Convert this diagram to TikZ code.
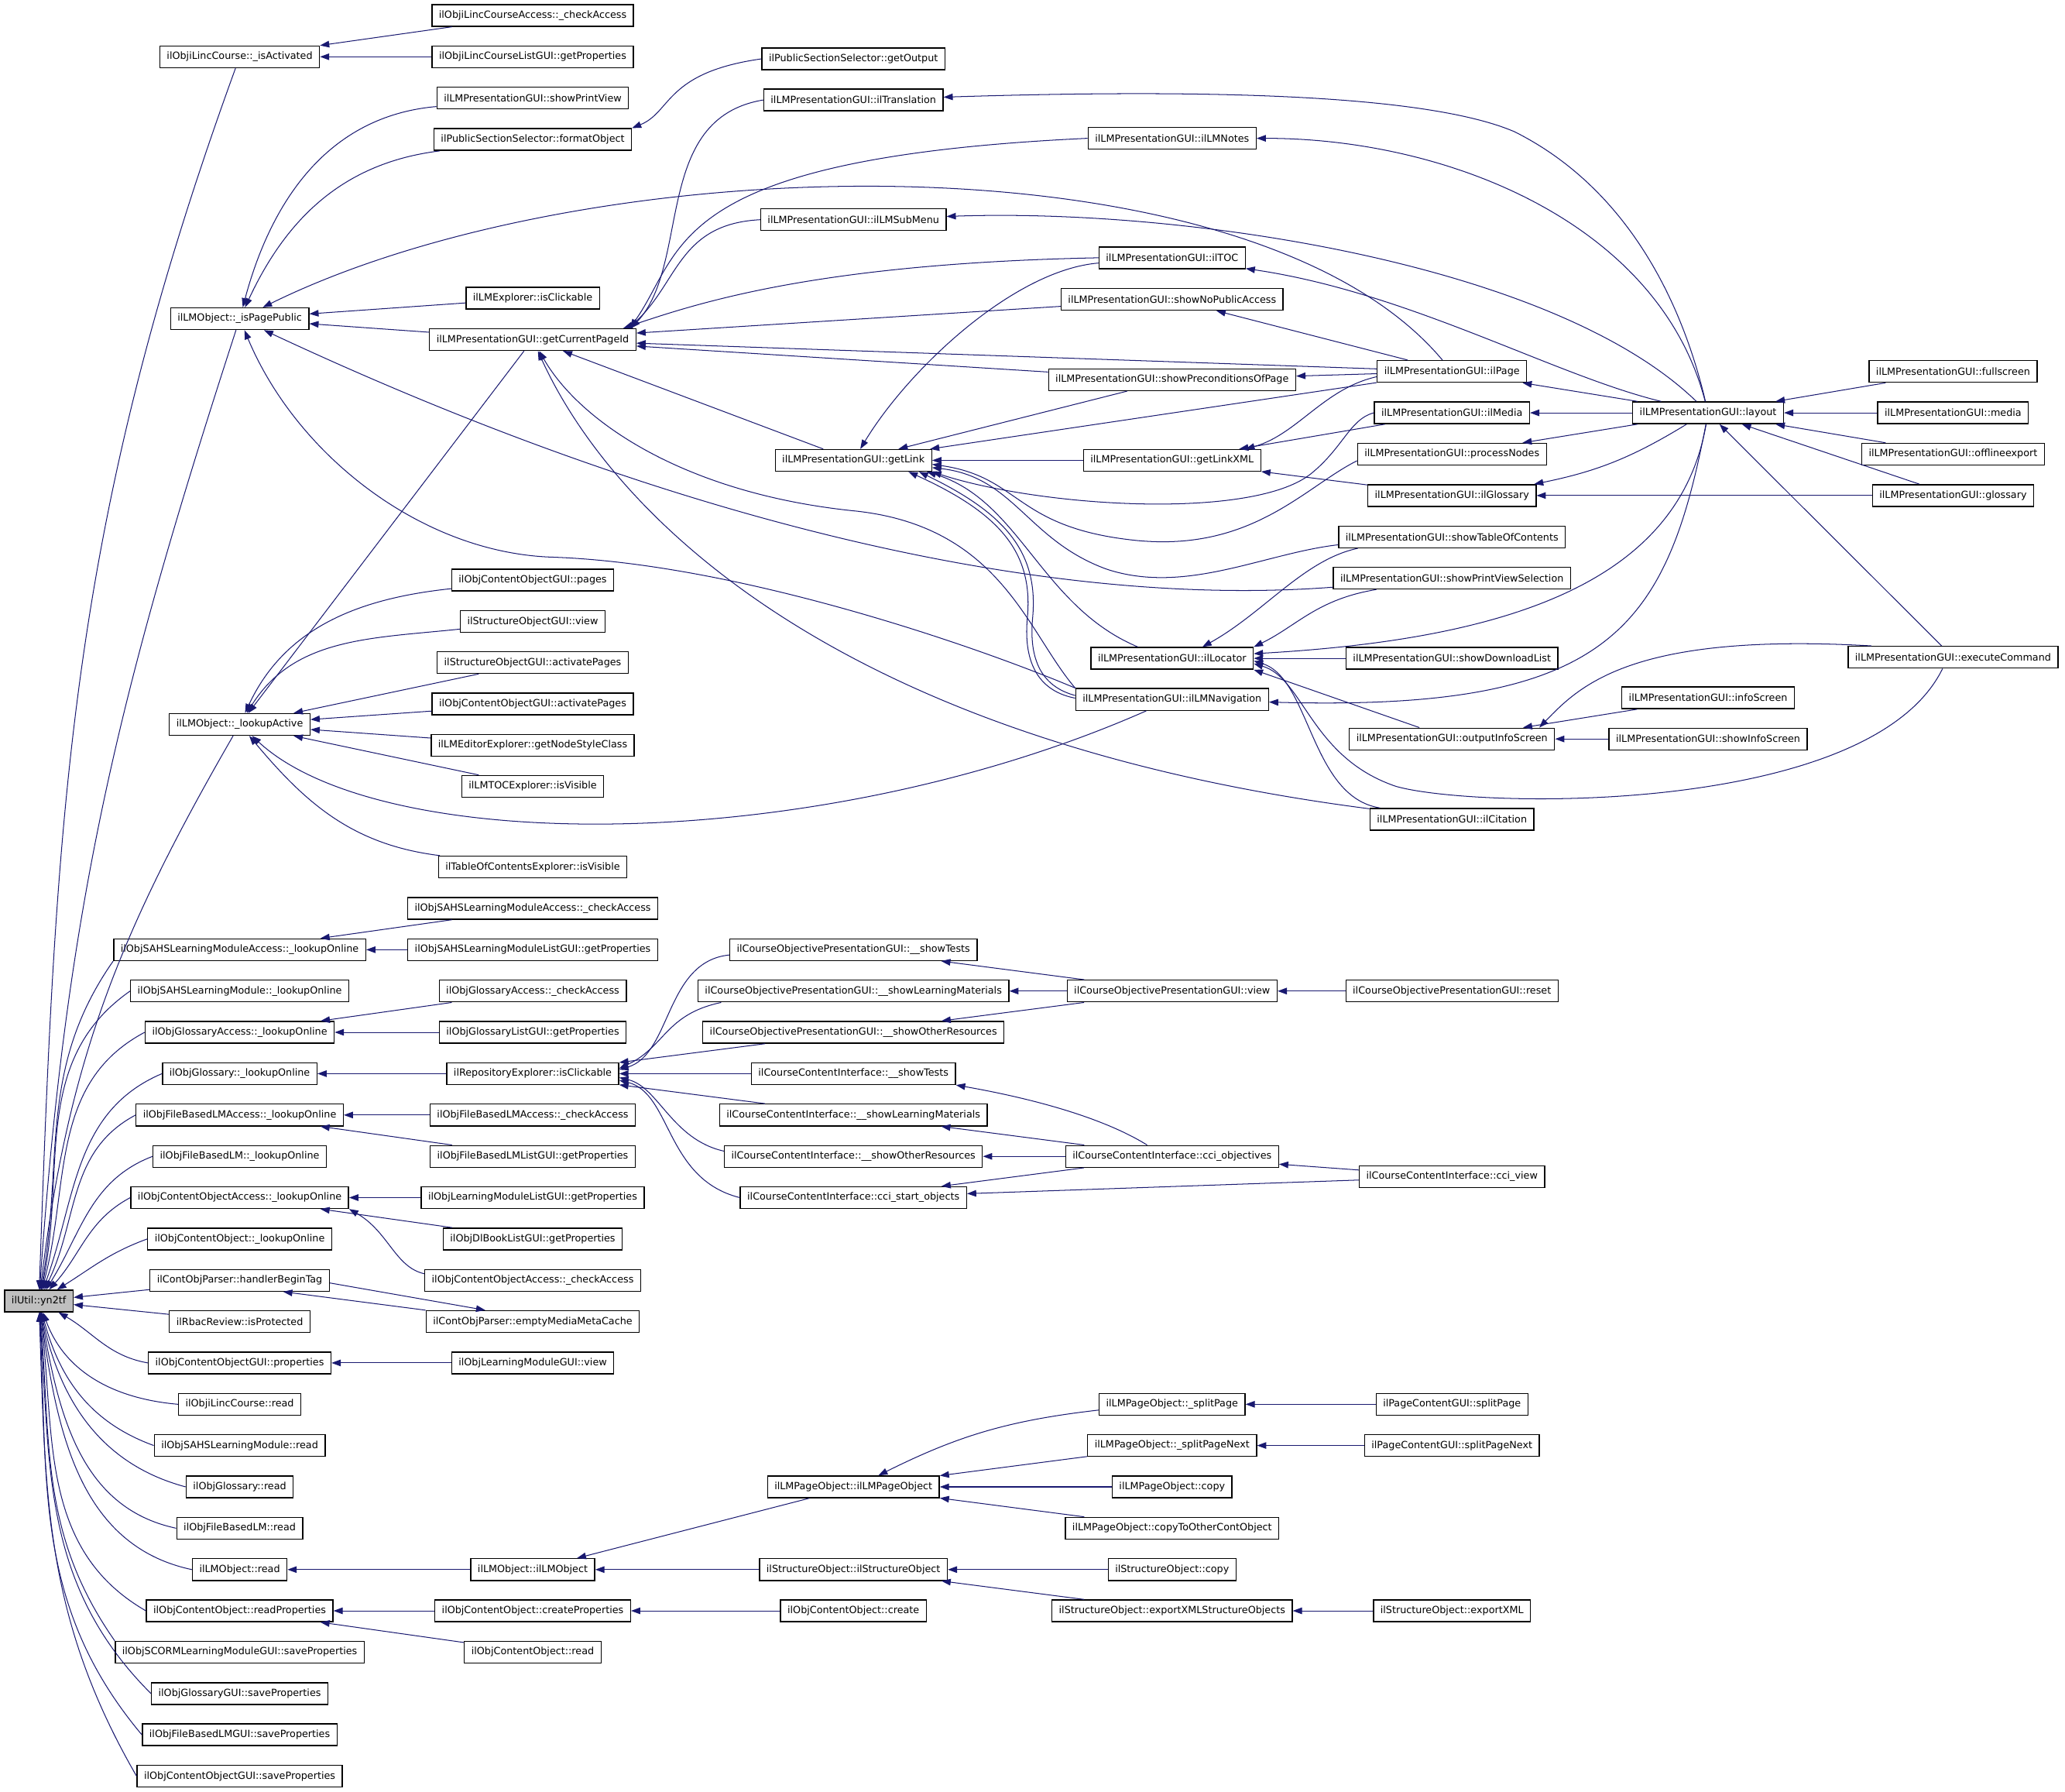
\documentclass[tikz,border=0pt]{standalone}
\usepackage{fontspec}
\setmainfont{DejaVu Sans}
\usetikzlibrary{arrows.meta}
\definecolor{edgeblue}{RGB}{25,25,112}
\definecolor{rootgray}{RGB}{191,191,191}

\begin{document}
\begin{tikzpicture}[x=1pt,y=1pt,
  fn/.style={draw=black, line width=0.8pt, fill=white, minimum height=16.5pt,
    inner xsep=5.3pt, inner ysep=1pt, font=\fontsize{7.5}{9}\selectfont},
  root/.style={fn, fill=rootgray},
  callarrow/.style={draw=edgeblue, line width=0.6pt,
    arrows={Triangle[length=7pt,width=5pt,fill=edgeblue]-}}]
  \useasboundingbox (0,0) rectangle (1568,-1360);

  % ilUtil
  \node[root] (yn2tf) at (29.5,-987.7) {ilUtil::yn2tf};

  % second column
  \node[fn] (is_activated) at (182,-43.1) {ilObjiLincCourse::\_isActivated};
  \node[fn] (is_page_public) at (182,-242) {ilLMObject::\_isPagePublic};
  \node[fn] (lookup_active) at (182,-550) {ilLMObject::\_lookupActive};
  \node[fn] (sahs_acc_online) at (182,-721) {ilObjSAHSLearningModuleAccess::\_lookupOnline};
  \node[fn] (sahs_online) at (182,-752.4) {ilObjSAHSLearningModule::\_lookupOnline};
  \node[fn] (gloss_acc_online) at (182,-783.7) {ilObjGlossaryAccess::\_lookupOnline};
  \node[fn] (gloss_online) at (182,-815.1) {ilObjGlossary::\_lookupOnline};
  \node[fn] (fblm_acc_online) at (182,-846.5) {ilObjFileBasedLMAccess::\_lookupOnline};
  \node[fn] (fblm_online) at (182,-877.9) {ilObjFileBasedLM::\_lookupOnline};
  \node[fn] (co_acc_online) at (182,-909.2) {ilObjContentObjectAccess::\_lookupOnline};
  \node[fn] (co_online) at (182,-940.6) {ilObjContentObject::\_lookupOnline};
  \node[fn] (handler_begin_tag) at (182,-972) {ilContObjParser::handlerBeginTag};
  \node[fn] (is_protected) at (182,-1003.3) {ilRbacReview::isProtected};
  \node[fn] (co_gui_properties) at (182,-1034.7) {ilObjContentObjectGUI::properties};
  \node[fn] (linc_read) at (182,-1066.1) {ilObjiLincCourse::read};
  \node[fn] (sahs_read) at (182,-1097.4) {ilObjSAHSLearningModule::read};
  \node[fn] (gloss_read) at (182,-1128.8) {ilObjGlossary::read};
  \node[fn] (fblm_read) at (182,-1160.2) {ilObjFileBasedLM::read};
  \node[fn] (lmo_read) at (182,-1191.6) {ilLMObject::read};
  \node[fn] (read_properties) at (182,-1222.9) {ilObjContentObject::readProperties};
  \node[fn] (scorm_save) at (182,-1254.3) {ilObjSCORMLearningModuleGUI::saveProperties};
  \node[fn] (gloss_save) at (182,-1285.7) {ilObjGlossaryGUI::saveProperties};
  \node[fn] (fblm_save) at (182,-1317) {ilObjFileBasedLMGUI::saveProperties};
  \node[fn] (co_gui_save) at (182,-1348.4) {ilObjContentObjectGUI::saveProperties};

  % third column
  \node[fn] (linc_check) at (404.5,-11.7) {ilObjiLincCourseAccess::\_checkAccess};
  \node[fn] (linc_list_props) at (404.5,-43.1) {ilObjiLincCourseListGUI::getProperties};
  \node[fn] (show_print_view) at (404.5,-74.5) {ilLMPresentationGUI::showPrintView};
  \node[fn] (format_object) at (404.5,-105.9) {ilPublicSectionSelector::formatObject};
  \node[fn] (lm_expl_clickable) at (404.5,-226.4) {ilLMExplorer::isClickable};
  \node[fn] (get_current_page_id) at (404.5,-257.8) {ilLMPresentationGUI::getCurrentPageId};
  \node[fn] (co_gui_pages) at (404.5,-440.4) {ilObjContentObjectGUI::pages};
  \node[fn] (so_gui_view) at (404.5,-471.8) {ilStructureObjectGUI::view};
  \node[fn] (so_gui_activate) at (404.5,-503) {ilStructureObjectGUI::activatePages};
  \node[fn] (co_gui_activate) at (404.5,-534.5) {ilObjContentObjectGUI::activatePages};
  \node[fn] (node_style_class) at (404.5,-565.8) {ilLMEditorExplorer::getNodeStyleClass};
  \node[fn] (toc_visible) at (404.5,-597) {ilLMTOCExplorer::isVisible};
  \node[fn] (table_visible) at (404.5,-658.2) {ilTableOfContentsExplorer::isVisible};
  \node[fn] (sahs_check) at (404.5,-689.6) {ilObjSAHSLearningModuleAccess::\_checkAccess};
  \node[fn] (sahs_list_props) at (404.5,-721) {ilObjSAHSLearningModuleListGUI::getProperties};
  \node[fn] (gloss_check) at (404.5,-752.4) {ilObjGlossaryAccess::\_checkAccess};
  \node[fn] (gloss_list_props) at (404.5,-783.7) {ilObjGlossaryListGUI::getProperties};
  \node[fn] (repo_clickable) at (404.5,-815.1) {ilRepositoryExplorer::isClickable};
  \node[fn] (fblm_check) at (404.5,-846.5) {ilObjFileBasedLMAccess::\_checkAccess};
  \node[fn] (fblm_list_props) at (404.5,-877.9) {ilObjFileBasedLMListGUI::getProperties};
  \node[fn] (lm_list_props) at (404.5,-909.2) {ilObjLearningModuleListGUI::getProperties};
  \node[fn] (dl_book_props) at (404.5,-940.6) {ilObjDlBookListGUI::getProperties};
  \node[fn] (co_acc_check) at (404.5,-972) {ilObjContentObjectAccess::\_checkAccess};
  \node[fn] (empty_cache) at (404.5,-1003.3) {ilContObjParser::emptyMediaMetaCache};
  \node[fn] (lm_gui_view) at (404.5,-1034.7) {ilObjLearningModuleGUI::view};
  \node[fn] (lmo_ctor) at (404.5,-1191.6) {ilLMObject::ilLMObject};
  \node[fn] (create_props) at (404.5,-1222.9) {ilObjContentObject::createProperties};
  \node[fn] (co_read) at (404.5,-1254.3) {ilObjContentObject::read};

  % fourth column
  \node[fn] (get_output) at (648,-44.7) {ilPublicSectionSelector::getOutput};
  \node[fn] (il_translation) at (648,-75.9) {ilLMPresentationGUI::ilTranslation};
  \node[fn] (il_lm_sub_menu) at (648,-166.8) {ilLMPresentationGUI::ilLMSubMenu};
  \node[fn] (get_link) at (648,-349.5) {ilLMPresentationGUI::getLink};
  \node[fn] (cop_tests) at (648,-721) {ilCourseObjectivePresentationGUI::\_\_showTests};
  \node[fn] (cop_materials) at (648,-752.4) {ilCourseObjectivePresentationGUI::\_\_showLearningMaterials};
  \node[fn] (cop_other) at (648,-783.7) {ilCourseObjectivePresentationGUI::\_\_showOtherResources};
  \node[fn] (cci_tests) at (648,-815.1) {ilCourseContentInterface::\_\_showTests};
  \node[fn] (cci_materials) at (648,-846.5) {ilCourseContentInterface::\_\_showLearningMaterials};
  \node[fn] (cci_other) at (648,-877.9) {ilCourseContentInterface::\_\_showOtherResources};
  \node[fn] (cci_start) at (648,-909.2) {ilCourseContentInterface::cci\_start\_objects};
  \node[fn] (lm_page_ctor) at (648,-1128.8) {ilLMPageObject::ilLMPageObject};
  \node[fn] (so_ctor) at (648,-1191.6) {ilStructureObject::ilStructureObject};
  \node[fn] (co_create) at (648,-1222.9) {ilObjContentObject::create};

  % fifth column
  \node[fn] (il_lm_notes) at (890,-105) {ilLMPresentationGUI::ilLMNotes};
  \node[fn] (il_toc) at (890,-195.7) {ilLMPresentationGUI::ilTOC};
  \node[fn] (show_no_public) at (890,-227.3) {ilLMPresentationGUI::showNoPublicAccess};
  \node[fn] (show_preconditions) at (890,-288.3) {ilLMPresentationGUI::showPreconditionsOfPage};
  \node[fn] (get_link_xml) at (890,-349.5) {ilLMPresentationGUI::getLinkXML};
  \node[fn] (il_locator) at (890,-499.8) {ilLMPresentationGUI::ilLocator};
  \node[fn] (il_lm_navigation) at (890,-531) {ilLMPresentationGUI::ilLMNavigation};
  \node[fn] (cop_view) at (890,-752.4) {ilCourseObjectivePresentationGUI::view};
  \node[fn] (cci_objectives) at (890,-877.9) {ilCourseContentInterface::cci\_objectives};
  \node[fn] (split_page) at (890,-1066.1) {ilLMPageObject::\_splitPage};
  \node[fn] (split_page_next) at (890,-1097.4) {ilLMPageObject::\_splitPageNext};
  \node[fn] (lm_page_copy) at (890,-1128.8) {ilLMPageObject::copy};
  \node[fn] (copy_to_other) at (890,-1160.2) {ilLMPageObject::copyToOtherContObject};
  \node[fn] (so_copy) at (890,-1191.6) {ilStructureObject::copy};
  \node[fn] (export_xml_so) at (890,-1222.9) {ilStructureObject::exportXMLStructureObjects};

  % sixth column
  \node[fn] (il_page) at (1102.5,-282) {ilLMPresentationGUI::ilPage};
  \node[fn] (il_media) at (1102.5,-313.4) {ilLMPresentationGUI::ilMedia};
  \node[fn] (process_nodes) at (1102.5,-344.8) {ilLMPresentationGUI::processNodes};
  \node[fn] (il_glossary) at (1102.5,-376.2) {ilLMPresentationGUI::ilGlossary};
  \node[fn] (show_toc) at (1102.5,-407.6) {ilLMPresentationGUI::showTableOfContents};
  \node[fn] (show_print_sel) at (1102.5,-438.9) {ilLMPresentationGUI::showPrintViewSelection};
  \node[fn] (show_download) at (1102.5,-499.8) {ilLMPresentationGUI::showDownloadList};
  \node[fn] (output_info) at (1102.5,-561) {ilLMPresentationGUI::outputInfoScreen};
  \node[fn] (il_citation) at (1102.5,-622) {ilLMPresentationGUI::ilCitation};
  \node[fn] (cop_reset) at (1102.5,-752.4) {ilCourseObjectivePresentationGUI::reset};
  \node[fn] (cci_view) at (1102.5,-893.4) {ilCourseContentInterface::cci\_view};
  \node[fn] (split_page_gui) at (1102.5,-1066.1) {ilPageContentGUI::splitPage};
  \node[fn] (split_page_next_gui) at (1102.5,-1097.4) {ilPageContentGUI::splitPageNext};
  \node[fn] (export_xml) at (1102.5,-1222.9) {ilStructureObject::exportXML};

  % right columns
  \node[fn] (layout) at (1297,-313.4) {ilLMPresentationGUI::layout};
  \node[fn] (info_screen) at (1297,-529.8) {ilLMPresentationGUI::infoScreen};
  \node[fn] (show_info_screen) at (1297,-561) {ilLMPresentationGUI::showInfoScreen};
  \node[fn] (fullscreen) at (1483,-282) {ilLMPresentationGUI::fullscreen};
  \node[fn] (media) at (1483,-313.4) {ilLMPresentationGUI::media};
  \node[fn] (offline_export) at (1483,-344.8) {ilLMPresentationGUI::offlineexport};
  \node[fn] (glossary) at (1483,-376.2) {ilLMPresentationGUI::glossary};
  \node[fn] (execute_command) at (1483,-499) {ilLMPresentationGUI::executeCommand};

  % callers of ilUtil::yn2tf
  \draw[callarrow] (yn2tf) to[out=88,in=-110] (is_activated);
  \draw[callarrow] (yn2tf) to[out=86,in=-108] (is_page_public);
  \draw[callarrow] (yn2tf) to[out=83,in=-120] (lookup_active);
  \draw[callarrow] (yn2tf) to[out=80,in=-125] (sahs_acc_online.south west);
  \draw[callarrow] (yn2tf) to[out=78,in=215] (sahs_online.west);
  \draw[callarrow] (yn2tf) to[out=75,in=208] (gloss_acc_online.west);
  \draw[callarrow] (yn2tf) to[out=70,in=203] (gloss_online.west);
  \draw[callarrow] (yn2tf) to[out=64,in=208] (fblm_acc_online.west);
  \draw[callarrow] (yn2tf) to[out=58,in=201] (fblm_online.west);
  \draw[callarrow] (yn2tf) to[out=48,in=208] (co_acc_online.west);
  \draw[callarrow] (yn2tf) to[out=32,in=200] (co_online.west);
  \draw[callarrow] (yn2tf) -- (handler_begin_tag);
  \draw[callarrow] (yn2tf) -- (is_protected);
  \draw[callarrow] (yn2tf) to[out=-30,in=170] (co_gui_properties.west);
  \draw[callarrow] (yn2tf) to[out=-70,in=175] (linc_read.west);
  \draw[callarrow] (yn2tf) to[out=-75,in=160] (sahs_read.west);
  \draw[callarrow] (yn2tf) to[out=-78,in=165] (gloss_read.west);
  \draw[callarrow] (yn2tf) to[out=-80,in=168] (fblm_read.west);
  \draw[callarrow] (yn2tf) to[out=-82,in=168] (lmo_read.west);
  \draw[callarrow] (yn2tf) to[out=-83,in=150] (read_properties.west);
  \draw[callarrow] (yn2tf) to[out=-85,in=125] (scorm_save.north west);
  \draw[callarrow] (yn2tf) to[out=-86,in=135] (gloss_save.west);
  \draw[callarrow] (yn2tf) to[out=-87,in=130] (fblm_save.west);
  \draw[callarrow] (yn2tf) to[out=-88,in=120] (co_gui_save.west);

  % _isActivated, _isPagePublic, _lookupActive
  \draw[callarrow] (is_activated) -- (linc_check);
  \draw[callarrow] (is_activated) -- (linc_list_props);
  \draw[callarrow] (is_page_public) to[out=75,in=185] (show_print_view);
  \draw[callarrow] (is_page_public) to[out=65,in=187] (format_object);
  \draw[callarrow] (is_page_public) .. controls (450,-110) and (950,-100) .. (il_page);
  \draw[callarrow] (is_page_public) -- (lm_expl_clickable);
  \draw[callarrow] (is_page_public) -- (get_current_page_id);
  \draw[callarrow] (is_page_public) .. controls (520,-400) and (800,-462) .. (show_print_sel);
  \draw[callarrow] (is_page_public) .. controls (225,-345) and (320,-420) .. (420,-423)
    .. controls (560,-428) and (740,-490) .. (il_lm_navigation.north west);
  \draw[callarrow] (lookup_active) -- (get_current_page_id);
  \draw[callarrow] (lookup_active) to[out=65,in=186] (co_gui_pages);
  \draw[callarrow] (lookup_active) to[out=58,in=186] (so_gui_view);
  \draw[callarrow] (lookup_active) -- (so_gui_activate);
  \draw[callarrow] (lookup_active) -- (co_gui_activate);
  \draw[callarrow] (lookup_active) -- (node_style_class);
  \draw[callarrow] (lookup_active) -- (toc_visible);
  \draw[callarrow] (lookup_active) to[out=-50,in=173] (table_visible);
  \draw[callarrow] (lookup_active) .. controls (290,-650) and (620,-650) .. (il_lm_navigation);
  \draw[callarrow] (format_object.north east) .. controls (510,-85) and (505,-55) .. (get_output.west);

  % getCurrentPageId
  \draw[callarrow] ([xshift=-4pt]get_current_page_id.north east) .. controls (525,-200) and (495,-90) .. (il_translation.west);
  \draw[callarrow] ([xshift=-5pt]get_current_page_id.north east) .. controls (520,-190) and (505,-120) .. (il_lm_notes.west);
  \draw[callarrow] ([xshift=-6pt]get_current_page_id.north east) .. controls (515,-215) and (515,-170) .. (il_lm_sub_menu.west);
  \draw[callarrow] ([xshift=-10pt]get_current_page_id.north east) .. controls (530,-230) and (620,-200) .. (il_toc.west);
  \draw[callarrow] (get_current_page_id) -- (show_no_public);
  \draw[callarrow] (get_current_page_id) -- (il_page);
  \draw[callarrow] (get_current_page_id) -- (show_preconditions);
  \draw[callarrow] (get_current_page_id) -- (get_link);
  \draw[callarrow] (get_current_page_id) .. controls (440,-320) and (520,-375) .. (650,-388)
    .. controls (760,-400) and (780,-480) .. (il_lm_navigation.north west);
  \draw[callarrow] (get_current_page_id) .. controls (460,-380) and (620,-560) .. (il_citation);

  % getLink
  \draw[callarrow] (get_link) .. controls (690,-280) and (770,-205) .. ([yshift=-4pt]il_toc.west);
  \draw[callarrow] (get_link) -- (show_preconditions);
  \draw[callarrow] (get_link) -- (il_page);
  \draw[callarrow] (get_link) -- (get_link_xml);
  \draw[callarrow] (get_link.south east) .. controls (790,-385) and (950,-395) .. (995,-360)
    .. controls (1020,-340) and (1025,-318) .. (il_media.west);
  \draw[callarrow] ([yshift=-3pt]get_link.east) .. controls (775,-362) and (770,-400) .. (860,-410)
    .. controls (950,-420) and (990,-370) .. ([yshift=-5pt]process_nodes.west);
  \draw[callarrow] ([yshift=-5.5pt]get_link.east) .. controls (770,-362) and (780,-410) .. (840,-432)
    .. controls (900,-452) and (960,-420) .. ([yshift=-6pt]show_toc.west);
  \draw[callarrow] ([xshift=-4pt]get_link.south east) .. controls (775,-380) and (790,-460) .. ([xshift=-26pt]il_locator.north);
  \draw[callarrow] ([xshift=-10pt]get_link.south east) .. controls (764,-390) and (789,-420) .. (784,-470)
    .. controls (781,-505) and (794,-522) .. ([yshift=3pt]il_lm_navigation.west);
  \draw[callarrow] ([xshift=-18pt]get_link.south east) .. controls (760,-390) and (785,-420) .. (780,-470)
    .. controls (777,-505) and (790,-525) .. ([yshift=1pt]il_lm_navigation.west);

  % getLinkXML, ilPage
  \draw[callarrow] ([xshift=-12pt]get_link_xml.north east) .. controls (985,-330) and (1005,-295) .. ([yshift=-4pt]il_page.west);
  \draw[callarrow] (get_link_xml) -- (il_media);
  \draw[callarrow] (get_link_xml) -- (il_glossary);
  \draw[callarrow] (show_preconditions) -- (il_page);
  \draw[callarrow] (show_no_public) -- (il_page);

  % layout
  \draw[callarrow] (il_translation) .. controls (900,-68) and (1080,-70) .. (1150,-100)
    .. controls (1230,-140) and (1275,-220) .. (layout);
  \draw[callarrow] (il_lm_notes) .. controls (1100,-105) and (1260,-170) .. (layout);
  \draw[callarrow] (il_lm_sub_menu) .. controls (900,-158) and (1180,-200) .. (layout);
  \draw[callarrow] (il_toc) .. controls (1070,-222) and (1180,-285) .. (layout);
  \draw[callarrow] (il_page) -- (layout);
  \draw[callarrow] (il_media) -- (layout);
  \draw[callarrow] (process_nodes) -- (layout);
  \draw[callarrow] (il_glossary) to[bend right=10] (layout);
  \draw[callarrow] (il_locator) .. controls (1150,-485) and (1275,-440) .. (layout);
  \draw[callarrow] (il_lm_navigation) .. controls (1220,-540) and (1265,-480) .. (layout);
  \draw[callarrow] (il_glossary) -- (glossary);
  \draw[callarrow] (layout) -- (fullscreen);
  \draw[callarrow] (layout) -- (media);
  \draw[callarrow] (layout) -- (offline_export);
  \draw[callarrow] (layout) -- (glossary);
  \draw[callarrow] (layout) -- (execute_command);

  % ilLocator, outputInfoScreen
  \draw[callarrow] ([xshift=23pt]il_locator.north) .. controls (960,-465) and (990,-425) .. ([xshift=15pt]show_toc.south west);
  \draw[callarrow] (il_locator.north east) .. controls (985,-475) and (1000,-455) .. ([xshift=33pt]show_print_sel.south west);
  \draw[callarrow] (il_locator) -- (show_download);
  \draw[callarrow] (il_locator.south east) -- (output_info);
  \draw[callarrow] ([yshift=-2pt]il_locator.east) .. controls (995,-515) and (995,-605) .. (il_citation);
  \draw[callarrow] ([yshift=-4pt]il_locator.east) .. controls (990,-515) and (995,-575) .. (1060,-597)
    .. controls (1120,-614) and (1420,-620) .. ([xshift=-8pt]execute_command.south);
  \draw[callarrow] ([xshift=-12pt]output_info.north east) .. controls (1200,-520) and (1240,-480) .. ([xshift=-62pt]execute_command.north);
  \draw[callarrow] (output_info) -- (info_screen);
  \draw[callarrow] (output_info) -- (show_info_screen);

  % ilRepositoryExplorer::isClickable and the course part
  \draw[callarrow] ([yshift=3pt]repo_clickable.east) .. controls (510,-800) and (505,-730) .. ([yshift=-4pt]cop_tests.west);
  \draw[callarrow] ([yshift=4pt]repo_clickable.east) .. controls (505,-795) and (505,-770) .. ([xshift=18pt]cop_materials.south west);
  \draw[callarrow] (repo_clickable) -- (cop_other);
  \draw[callarrow] (repo_clickable) -- (cci_tests);
  \draw[callarrow] (repo_clickable) -- (cci_materials);
  \draw[callarrow] ([yshift=-3pt]repo_clickable.east) .. controls (500,-825) and (510,-865) .. ([yshift=4pt]cci_other.west);
  \draw[callarrow] ([yshift=-5pt]repo_clickable.east) .. controls (510,-830) and (505,-895) .. (cci_start.west);
  \draw[callarrow] (gloss_online) -- (repo_clickable);
  \draw[callarrow] (cop_tests) -- (cop_view);
  \draw[callarrow] (cop_materials) -- (cop_view);
  \draw[callarrow] (cop_other) -- (cop_view);
  \draw[callarrow] (cop_view) -- (cop_reset);
  \draw[callarrow] (cci_tests.south east) .. controls (790,-835) and (840,-850) .. ([xshift=-19pt]cci_objectives.north);
  \draw[callarrow] (cci_materials) -- (cci_objectives);
  \draw[callarrow] (cci_other) -- (cci_objectives);
  \draw[callarrow] (cci_start) -- (cci_objectives);
  \draw[callarrow] (cci_objectives) -- (cci_view);
  \draw[callarrow] (cci_start) -- (cci_view);

  % _lookupOnline and the rest
  \draw[callarrow] (sahs_acc_online) -- (sahs_check);
  \draw[callarrow] (sahs_acc_online) -- (sahs_list_props);
  \draw[callarrow] (gloss_acc_online) -- (gloss_check);
  \draw[callarrow] (gloss_acc_online) -- (gloss_list_props);
  \draw[callarrow] (fblm_acc_online) -- (fblm_check);
  \draw[callarrow] (fblm_acc_online) -- (fblm_list_props);
  \draw[callarrow] (co_acc_online) -- (lm_list_props);
  \draw[callarrow] (co_acc_online) -- (dl_book_props);
  \draw[callarrow] (co_acc_online.south east) .. controls (295,-935) and (300,-962) .. ([yshift=5pt]co_acc_check.west);
  \draw[callarrow] ([xshift=33pt]handler_begin_tag.south) -- (empty_cache.north west);
  \draw[callarrow] ([xshift=-36pt]empty_cache.north) -- ([yshift=-2pt]handler_begin_tag.east);
  \draw[callarrow] (co_gui_properties) -- (lm_gui_view);
  \draw[callarrow] (lmo_read) -- (lmo_ctor);
  \draw[callarrow] (lmo_ctor) -- (lm_page_ctor);
  \draw[callarrow] (lmo_ctor) -- (so_ctor);
  \draw[callarrow] (read_properties) -- (create_props);
  \draw[callarrow] (read_properties) -- (co_read);
  \draw[callarrow] (create_props) -- (co_create);
  \draw[callarrow] (lm_page_ctor) to[bend left=10] (split_page);
  \draw[callarrow] (lm_page_ctor) -- (split_page_next);
  \draw[callarrow] (lm_page_ctor) -- (lm_page_copy);
  \draw[callarrow] (lm_page_ctor) -- (copy_to_other);
  \draw[callarrow] (split_page) -- (split_page_gui);
  \draw[callarrow] (split_page_next) -- (split_page_next_gui);
  \draw[callarrow] (so_ctor) -- (so_copy);
  \draw[callarrow] (so_ctor) -- (export_xml_so);
  \draw[callarrow] (export_xml_so) -- (export_xml);
%  \draw[callarrow] (get_link) -- (show_print_sel);
\end{tikzpicture}
\end{document}
